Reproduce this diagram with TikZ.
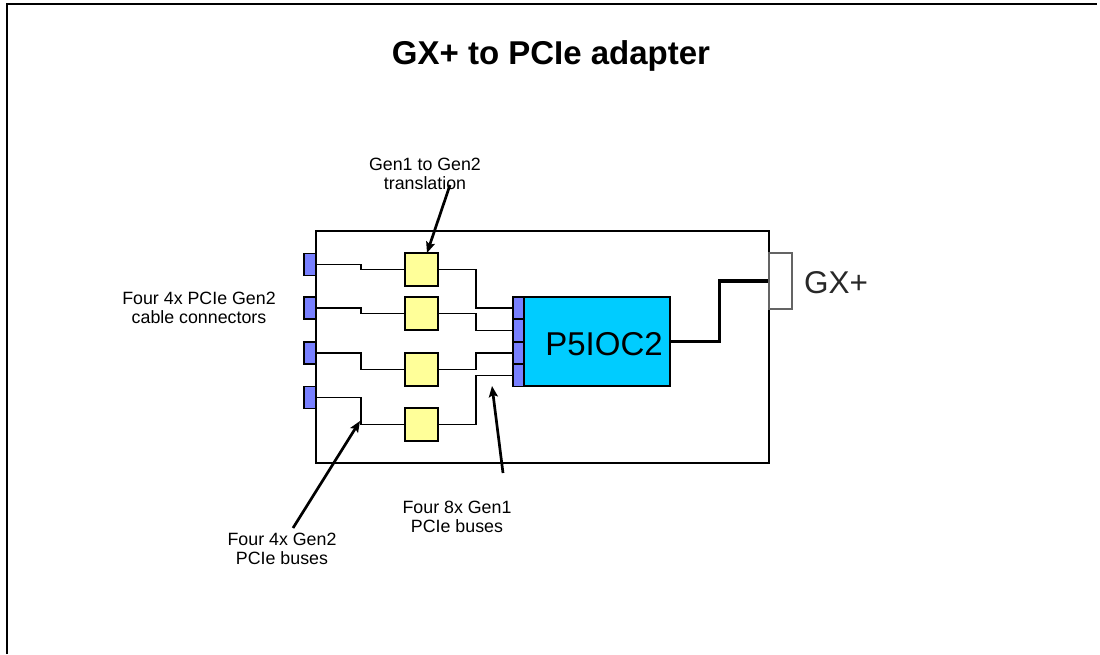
\documentclass[tikz,border=0pt]{standalone}
\usepackage{fontspec}
\setmainfont{Liberation Sans}
\usetikzlibrary{arrows.meta,calc}
\definecolor{portblue}{RGB}{120,128,255}
\definecolor{transyellow}{RGB}{255,255,153}
\definecolor{chipcyan}{RGB}{0,204,255}
\definecolor{gxgray}{RGB}{100,100,100}
\definecolor{gxtext}{RGB}{40,40,40}
\tikzset{
  frame/.style={line width=1.8pt,black},
  board/.style={draw,line width=1.7pt,minimum width=453pt,minimum height=232pt,inner sep=0pt},
  conn/.style={draw,line width=1.5pt,fill=portblue,minimum width=12pt,minimum height=22pt,inner sep=0pt},
  chipport/.style={draw,line width=1.5pt,fill=portblue,minimum width=11pt,minimum height=22.3pt,inner sep=0pt},
  trans/.style={draw,line width=1.5pt,fill=transyellow,minimum width=33pt,minimum height=33pt,inner sep=0pt},
  chip/.style={draw,line width=1.5pt,fill=chipcyan,minimum width=146pt,minimum height=89pt,inner sep=0pt},
  gxbox/.style={draw=gxgray,line width=1.5pt,minimum width=23pt,minimum height=56pt,inner sep=0pt},
  bus/.style={line width=1.7pt,black},
  link/.style={line width=3.2pt,black},
  lbl/.style={align=center,inner sep=0pt,font=\fontsize{17.8}{19}\selectfont},
  arr/.style={line width=2.7pt,-{Stealth[length=11pt,width=9pt,inset=2pt]}},
}
\begin{document}
\begin{tikzpicture}[x=1pt,y=-1pt]
\useasboundingbox (0,0) rectangle (1100,654);
\fill[white] (0,0) rectangle (1100,654);
% outer frame
\draw[frame] (7,654) -- (7,4) -- (1097,4);
% title
\node (title) at (551,56) {\fontsize{33}{36}\selectfont\bfseries GX+ to PCIe adapter};
% board
\node[board] (board) at (542.5,347) {};
% GX+ box
\node[gxbox] (gx) at (780.5,281) {};
\node[anchor=west,inner sep=0pt,text=gxtext] (gxl) at (804,283) {\fontsize{31.5}{34}\selectfont GX+};
% cable connectors
\node[conn] (c1) at (310,264.5) {};
\node[conn] (c2) at (310,308) {};
\node[conn] (c3) at (310,353) {};
\node[conn] (c4) at (310,397.5) {};
% translation boxes
\node[trans] (t1) at (421.5,269.5) {};
\node[trans] (t2) at (421.5,313.5) {};
\node[trans] (t3) at (421.5,369.5) {};
\node[trans] (t4) at (421.5,424.5) {};
% chip
\node[chip] (chip) at (597,341.5) {};
\node[inner sep=0pt] (chipl) at (604,344) {\fontsize{33}{35}\selectfont P5IOC2};
\node[chipport] (p1) at (518.5,308) {};
\node[chipport] (p2) at (518.5,330.5) {};
\node[chipport] (p3) at (518.5,353) {};
\node[chipport] (p4) at (518.5,375.5) {};
% Gen2 buses
\draw[bus] (c1.east) -- ++(44,0) |- (t1.west);
\draw[bus] (c2.east) -- ++(44,0) |- (t2.west);
\draw[bus] (c3.east) -- ++(44,0) |- (t3.west);
\draw[bus] (c4.east) -- ++(44,0) |- (t4.west);
% Gen1 buses
\draw[bus] (t1.east) -- ++(37,0) |- (p1.west);
\draw[bus] (t2.east) -- ++(37,0) |- (p2.west);
\draw[bus] (t3.east) -- ++(37,0) |- (p3.west);
\draw[bus] (t4.east) -- ++(37,0) |- (p4.west);
% GX link
\draw[link] (chip.east) -- ++(49,0) |- (gx.west);
% labels
\node[lbl] (l1) at (425,174) {Gen1 to Gen2\\translation};
\node[lbl] (l2) at (199,308) {Four 4x PCIe Gen2\\cable connectors};
\node[lbl] (l3) at (282,549) {Four 4x Gen2\\PCIe buses};
\node[lbl] (l4) at (457,517) {Four 8x Gen1\\PCIe buses};
% arrows
\coordinate (a1s) at (450,185);
\coordinate (a1e) at (427,253);
\coordinate (a2s) at (293,528);
\coordinate (a2e) at (360,421);
\coordinate (a3s) at (503,473);
\coordinate (a3e) at (492,386);
\draw[arr] (a1s) -- (a1e);
\draw[arr] (a2s) -- (a2e);
\draw[arr] (a3s) -- (a3e);
\end{tikzpicture}
\end{document}
